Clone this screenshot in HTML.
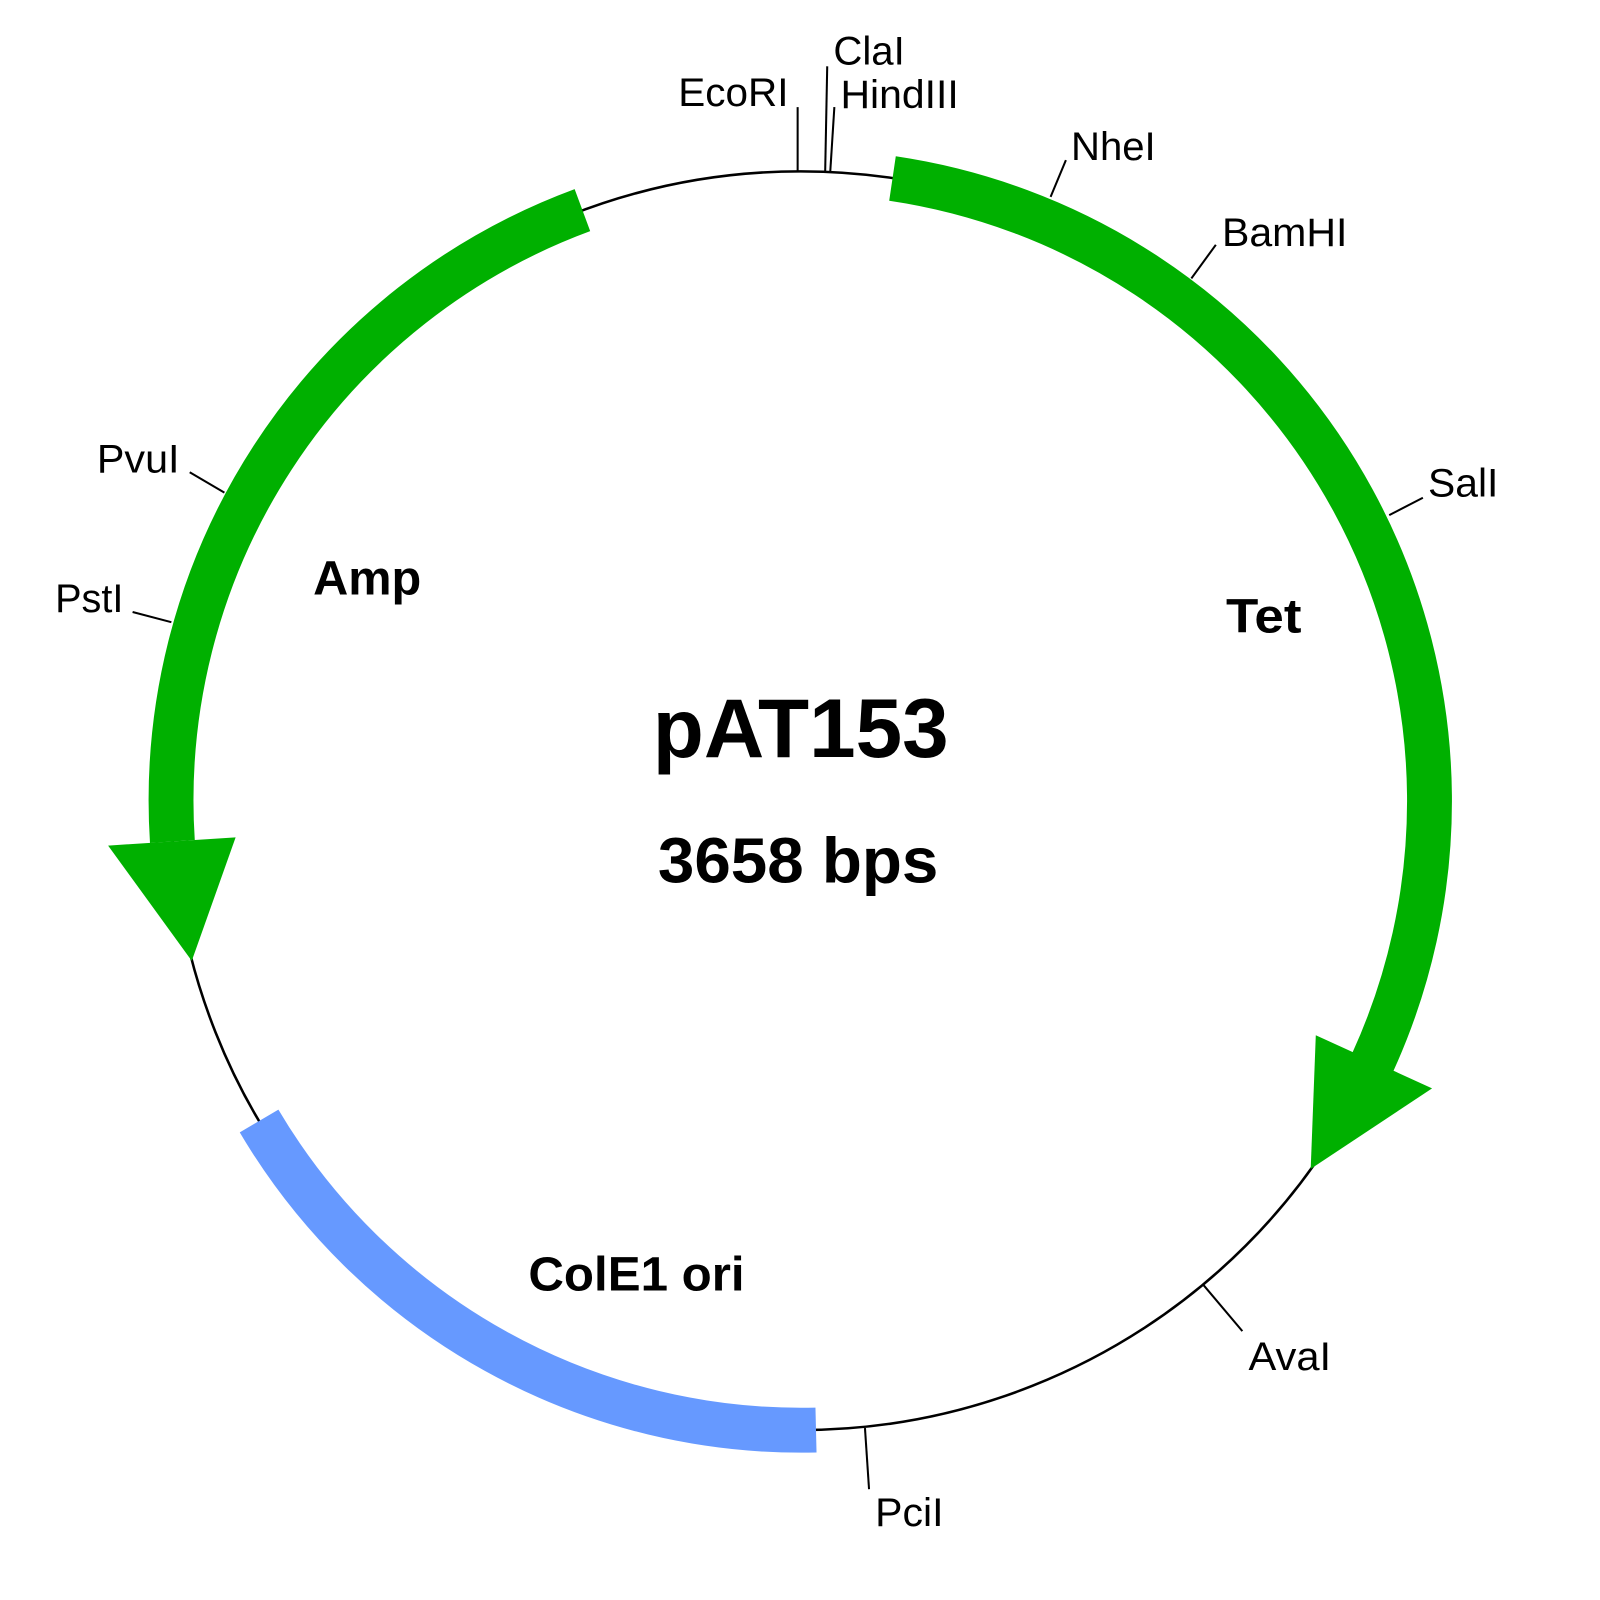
<!DOCTYPE html>
<html><head><meta charset="utf-8"><style>html,body{margin:0;padding:0;background:#fff}svg{display:block}</style></head>
<body>
<svg width="1600" height="1600" viewBox="0 0 1600 1600" xmlns="http://www.w3.org/2000/svg" font-family="Liberation Sans, Arial, sans-serif">
<rect width="1600" height="1600" fill="#fff"/>
<g transform="scale(1.02)">
<circle cx="785" cy="785" r="617" fill="none" stroke="#000" stroke-width="2.5"/>
<path d="M875,175 A617,617 0 0 1 1346,1041" fill="none" stroke="#00b000" stroke-width="44"/>
<polygon points="1404,1067 1290,1015 1285,1146" fill="#00b000"/>
<path d="M571,206 A617,617 0 0 0 169,825" fill="none" stroke="#00b000" stroke-width="44"/>
<polygon points="106,829 231,821 188,942" fill="#00b000"/>
<path d="M800,1402 A617,617 0 0 1 254,1099" fill="none" stroke="#6699ff" stroke-width="44"/>
<g stroke="#000" stroke-width="2">
<line x1="782" y1="168" x2="782" y2="105"/>
<line x1="809" y1="168" x2="811" y2="65"/>
<line x1="814" y1="168" x2="818" y2="105"/>
<line x1="1030" y1="193" x2="1045" y2="157"/>
<line x1="1168" y1="273" x2="1192" y2="240"/>
<line x1="1362" y1="505" x2="1395" y2="488"/>
<line x1="1180" y1="1260" x2="1218" y2="1305"/>
<line x1="848" y1="1400" x2="852" y2="1460"/>
<line x1="220" y1="483" x2="186" y2="463"/>
<line x1="168" y1="610" x2="130" y2="600"/>
</g>
<g font-size="39" fill="#000" lengthAdjust="spacingAndGlyphs">
<text x="665" y="104" textLength="108" lengthAdjust="spacingAndGlyphs">EcoRI</text>
<text x="817" y="63" textLength="70" lengthAdjust="spacingAndGlyphs">ClaI</text>
<text x="824" y="106" textLength="116" lengthAdjust="spacingAndGlyphs">HindIII</text>
<text x="1050" y="157" textLength="83" lengthAdjust="spacingAndGlyphs">NheI</text>
<text x="1198" y="241" textLength="123" lengthAdjust="spacingAndGlyphs">BamHI</text>
<text x="1400" y="487" textLength="69" lengthAdjust="spacingAndGlyphs">SalI</text>
<text x="1224" y="1343" textLength="81" lengthAdjust="spacingAndGlyphs">AvaI</text>
<text x="858" y="1496" textLength="67" lengthAdjust="spacingAndGlyphs">PciI</text>
<text x="95" y="463" textLength="81" lengthAdjust="spacingAndGlyphs">PvuI</text>
<text x="54" y="600" textLength="67" lengthAdjust="spacingAndGlyphs">PstI</text>
</g>
<g font-weight="bold" fill="#000">
<text x="307" y="583" font-size="47" textLength="106" lengthAdjust="spacingAndGlyphs">Amp</text>
<text x="1202" y="620" font-size="47" textLength="74" lengthAdjust="spacingAndGlyphs">Tet</text>
<text x="518" y="1265" font-size="47" textLength="212" lengthAdjust="spacingAndGlyphs">ColE1 ori</text>
<text x="785" y="742" font-size="82" text-anchor="middle">pAT153</text>
<text x="645" y="865" font-size="63" textLength="275" lengthAdjust="spacingAndGlyphs">3658 bps</text>
</g>
</g>
</svg>
</body></html>
